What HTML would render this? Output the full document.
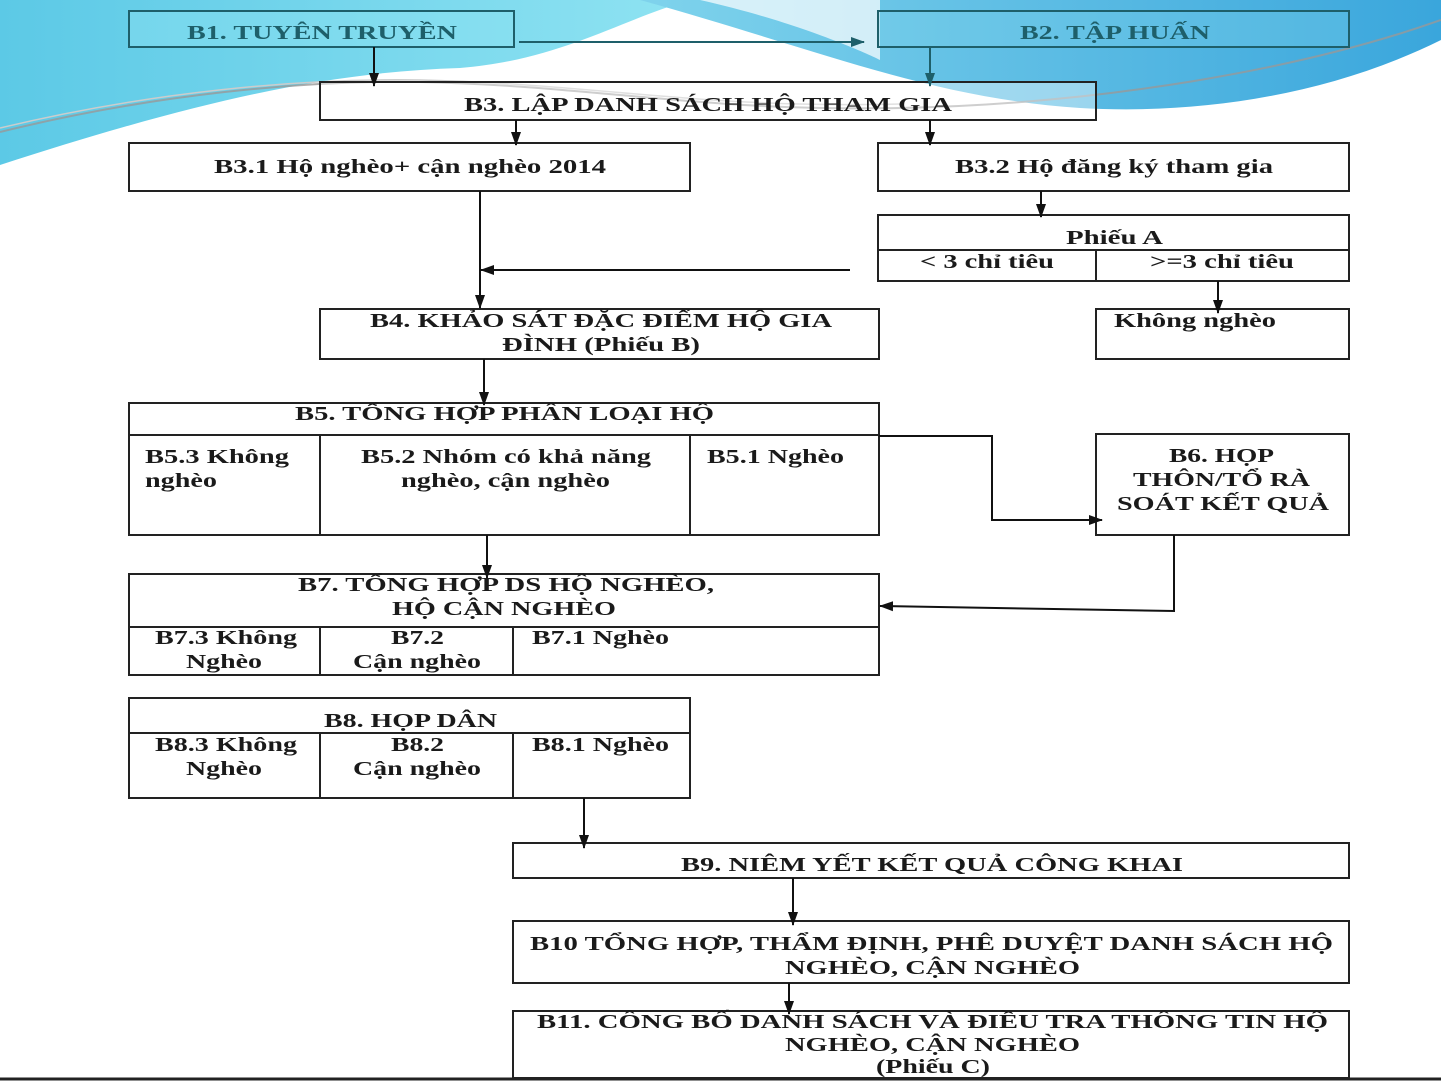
<!DOCTYPE html>
<html><head><meta charset="utf-8"><style>
html,body{margin:0;padding:0;background:#fff;}
svg{display:block;}
text{font-family:"Liberation Serif",serif;font-weight:bold;font-size:20px;fill:#1a1a1a;}
</style></head><body>
<svg width="1441" height="1081" viewBox="0 0 1441 1081" xmlns="http://www.w3.org/2000/svg">
<defs>
<linearGradient id="cy" x1="0" y1="0" x2="1" y2="0"><stop offset="0" stop-color="#5cc9e6"/><stop offset="1" stop-color="#8fe3f2"/></linearGradient>
<linearGradient id="bl" x1="0" y1="0" x2="1" y2="0"><stop offset="0" stop-color="#7fd3ec"/><stop offset="1" stop-color="#3aa6dc"/></linearGradient>
<marker id="a" markerWidth="14" markerHeight="12" refX="13" refY="6" orient="auto" markerUnits="userSpaceOnUse"><path d="M0,1 L14,6 L0,11 Z" fill="#111"/></marker>
<marker id="at" markerWidth="14" markerHeight="12" refX="13" refY="6" orient="auto" markerUnits="userSpaceOnUse"><path d="M0,1 L14,6 L0,11 Z" fill="#1e5f6a"/></marker>
</defs>
<path d="M0,0 L690,0 C620,20 560,60 460,68 C330,72 200,100 0,165 Z" fill="url(#cy)"/>
<path d="M640,0 L1441,0 L1441,40 C1330,95 1200,115 1080,108 C930,98 820,50 640,0 Z" fill="url(#bl)"/>
<path d="M700,0 C790,20 860,50 880,60 L880,0 Z" fill="#fff" opacity="0.7"/>
<path d="M0,132 C150,95 300,80 420,82 C600,86 700,112 900,108 C1100,104 1300,70 1441,20" fill="none" stroke="#999" stroke-width="2" opacity="0.8"/>
<path d="M0,128 C150,92 300,78 420,80 C600,84 700,109 900,104" fill="none" stroke="#ccc" stroke-width="1.5"/>
<path d="M0,1079 L1441,1079" stroke="#222" stroke-width="3"/>

<g fill="none" stroke="#222" stroke-width="2">
<rect x="129" y="11" width="385" height="36" stroke="#1e5f6a" fill="#8fe3f2" fill-opacity="0.4"/>
<rect x="878" y="11" width="471" height="36" stroke="#1e5f6a" fill="#7fd3ec" fill-opacity="0.3"/>
<rect x="320" y="82" width="776" height="38" fill="#fff" fill-opacity="0.4"/>
<rect x="129" y="143" width="561" height="48" fill="#fff"/>
<rect x="878" y="143" width="471" height="48" fill="#fff"/>
<rect x="878" y="215" width="471" height="66"/><path d="M878,250 H1349 M1096,250 V281"/>
<rect x="1096" y="309" width="253" height="50"/>
<rect x="320" y="309" width="559" height="50"/>
<rect x="129" y="403" width="750" height="132"/><path d="M129,435 H879 M320,435 V535 M690,435 V535"/>
<rect x="1096" y="434" width="253" height="101"/>
<rect x="129" y="574" width="750" height="101"/><path d="M129,627 H879 M320,627 V675 M513,627 V675"/>
<rect x="129" y="698" width="561" height="100"/><path d="M129,733 H690 M320,733 V798 M513,733 V798"/>
<rect x="513" y="843" width="836" height="35"/>
<rect x="513" y="921" width="836" height="62"/>
<rect x="513" y="1011" width="836" height="67"/>
</g>
<g fill="none" stroke="#111" stroke-width="2">
<path d="M519,42 H864" stroke="#1e5f6a" marker-end="url(#at)"/>
<path d="M374,47 V86" marker-end="url(#a)"/>
<path d="M930,47 V86" stroke="#1e5f6a" marker-end="url(#at)"/>
<path d="M516,120 V145" marker-end="url(#a)"/>
<path d="M930,120 V145" marker-end="url(#a)"/>
<path d="M1041,191 V217" marker-end="url(#a)"/>
<path d="M1218,281 V313" marker-end="url(#a)"/>
<path d="M480,191 V308" marker-end="url(#a)"/>
<path d="M850,270 H481" marker-end="url(#a)"/>
<path d="M484,359 V405" marker-end="url(#a)"/>
<path d="M879,436 H992 V520 H1102" marker-end="url(#a)"/>
<path d="M1174,535 V611 L880,606" marker-end="url(#a)"/>
<path d="M487,535 V578" marker-end="url(#a)"/>
<path d="M584,798 V848" marker-end="url(#a)"/>
<path d="M793,878 V925" marker-end="url(#a)"/>
<path d="M789,983 V1014" marker-end="url(#a)"/>
</g>

<g text-anchor="start">
<text x="187" y="39" textLength="270" lengthAdjust="spacingAndGlyphs" style="fill:#1e5f6a">B1. TUYÊN TRUYỀN</text>
<text x="1020" y="39" textLength="190" lengthAdjust="spacingAndGlyphs" style="fill:#1e5f6a">B2. TẬP HUẤN</text>
<text x="464" y="111" textLength="488" lengthAdjust="spacingAndGlyphs">B3. LẬP DANH  SÁCH HỘ THAM GIA</text>
<text x="214" y="173" textLength="392" lengthAdjust="spacingAndGlyphs">B3.1 Hộ nghèo+ cận nghèo 2014</text>
<text x="955" y="173" textLength="318" lengthAdjust="spacingAndGlyphs">B3.2 Hộ đăng ký tham gia</text>
<text x="1066" y="244" textLength="97" lengthAdjust="spacingAndGlyphs">Phiếu A</text>
<text x="920" y="268" textLength="134" lengthAdjust="spacingAndGlyphs">&lt; 3 chỉ tiêu</text>
<text x="1150" y="268" textLength="144" lengthAdjust="spacingAndGlyphs">&gt;=3 chỉ tiêu</text>
<text x="1114" y="327" textLength="162" lengthAdjust="spacingAndGlyphs">Không nghèo</text>
<text x="370" y="327" textLength="462" lengthAdjust="spacingAndGlyphs">B4. KHẢO SÁT ĐẶC ĐIỂM HỘ GIA</text>
<text x="502" y="351" textLength="198" lengthAdjust="spacingAndGlyphs">ĐÌNH (Phiếu B)</text>
<text x="295" y="420" textLength="419" lengthAdjust="spacingAndGlyphs">B5. TỔNG HỢP PHÂN LOẠI HỘ</text>
<text x="145" y="463" textLength="144" lengthAdjust="spacingAndGlyphs">B5.3 Không</text>
<text x="145" y="487" textLength="72" lengthAdjust="spacingAndGlyphs">nghèo</text>
<text x="361" y="463" textLength="290" lengthAdjust="spacingAndGlyphs">B5.2 Nhóm có khả năng</text>
<text x="401" y="487" textLength="209" lengthAdjust="spacingAndGlyphs">nghèo, cận nghèo</text>
<text x="707" y="463" textLength="137" lengthAdjust="spacingAndGlyphs">B5.1 Nghèo</text>
<text x="1169" y="462" textLength="105" lengthAdjust="spacingAndGlyphs">B6. HỌP</text>
<text x="1133" y="486" textLength="177" lengthAdjust="spacingAndGlyphs">THÔN/TỔ RÀ</text>
<text x="1117" y="510" textLength="212" lengthAdjust="spacingAndGlyphs">SOÁT KẾT QUẢ</text>
<text x="298" y="591" textLength="416" lengthAdjust="spacingAndGlyphs">B7. TỔNG HỢP DS HỘ NGHÈO,</text>
<text x="392" y="615" textLength="224" lengthAdjust="spacingAndGlyphs">HỘ CẬN NGHÈO</text>
<text x="155" y="644" textLength="142" lengthAdjust="spacingAndGlyphs">B7.3 Không</text>
<text x="186" y="668" textLength="76" lengthAdjust="spacingAndGlyphs">Nghèo</text>
<text x="391" y="644" textLength="53" lengthAdjust="spacingAndGlyphs">B7.2</text>
<text x="353" y="668" textLength="128" lengthAdjust="spacingAndGlyphs">Cận nghèo</text>
<text x="532" y="644" textLength="137" lengthAdjust="spacingAndGlyphs">B7.1 Nghèo</text>
<text x="324" y="727" textLength="173" lengthAdjust="spacingAndGlyphs">B8. HỌP DÂN</text>
<text x="155" y="751" textLength="142" lengthAdjust="spacingAndGlyphs">B8.3 Không</text>
<text x="186" y="775" textLength="76" lengthAdjust="spacingAndGlyphs">Nghèo</text>
<text x="391" y="751" textLength="53" lengthAdjust="spacingAndGlyphs">B8.2</text>
<text x="353" y="775" textLength="128" lengthAdjust="spacingAndGlyphs">Cận nghèo</text>
<text x="532" y="751" textLength="137" lengthAdjust="spacingAndGlyphs">B8.1 Nghèo</text>
<text x="681" y="871" textLength="502" lengthAdjust="spacingAndGlyphs">B9. NIÊM YẾT KẾT QUẢ CÔNG KHAI</text>
<text x="530" y="950" textLength="803" lengthAdjust="spacingAndGlyphs">B10 TỔNG HỢP, THẨM ĐỊNH, PHÊ DUYỆT DANH SÁCH HỘ</text>
<text x="785" y="974" textLength="295" lengthAdjust="spacingAndGlyphs">NGHÈO, CẬN NGHÈO</text>
<text x="537" y="1028" textLength="791" lengthAdjust="spacingAndGlyphs">B11. CÔNG BỐ DANH SÁCH VÀ ĐIỀU TRA THÔNG TIN HỘ</text>
<text x="785" y="1051" textLength="295" lengthAdjust="spacingAndGlyphs">NGHÈO, CẬN NGHÈO</text>
<text x="876" y="1073" textLength="114" lengthAdjust="spacingAndGlyphs">(Phiếu C)</text>
</g>
</svg>
</body></html>
